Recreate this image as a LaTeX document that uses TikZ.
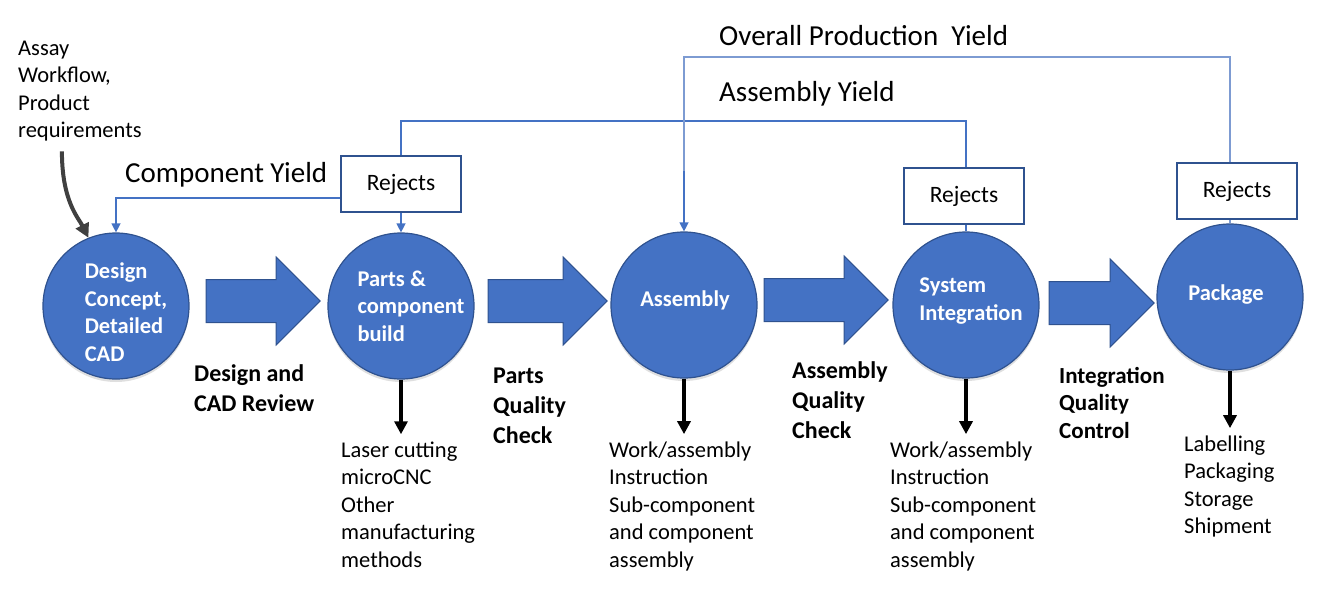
\documentclass[tikz,border=0pt]{standalone}
\usepackage{fontspec}
\setmainfont{Carlito}
\usetikzlibrary{arrows.meta,positioning,shapes.arrows,shadows}
\definecolor{stageblue}{RGB}{68,114,196}
\definecolor{edgeblue}{RGB}{47,82,143}
\definecolor{yieldblue}{RGB}{68,114,196}
\definecolor{overallblue}{RGB}{125,155,210}
\definecolor{inputgray}{RGB}{64,64,64}

\begin{document}
\begin{tikzpicture}[
    x=1pt,y=1pt,
    every node/.style={inner sep=0pt,align=left},
    stage/.style={circle,fill=stageblue,draw=edgeblue,line width=1.2pt,
                  minimum size=146pt,
                  drop shadow={shadow xshift=0pt,shadow yshift=-3pt,opacity=0.25}},
    stagetext/.style={text=white,font=\fontsize{22.5}{27.5}\selectfont\bfseries},
    flow/.style={single arrow,fill=stageblue,draw=edgeblue,line width=1pt,
                 single arrow head extend=22.5pt,inner ysep=21pt,inner xsep=0pt,
                 minimum width=0pt},
    rejects/.style={draw=edgeblue,line width=1.6pt,fill=white,
                    minimum width=120pt,minimum height=56pt,
                    font=\fontsize{23.5}{28}\selectfont},
    checklabel/.style={anchor=base west,font=\fontsize{24}{30}\selectfont\bfseries},
    desc/.style={anchor=base west,font=\fontsize{22.5}{27.5}\selectfont},
    yieldlabel/.style={anchor=west,font=\fontsize{29}{34}\selectfont},
    yieldline/.style={draw=yieldblue,line width=1.3pt},
    yieldarrow/.style={yieldline,-{Triangle[width=9pt,length=9pt]}},
    overallline/.style={draw=overallblue,line width=1.3pt},
    outarrow/.style={line width=3.8pt,-{Triangle[width=13pt,length=13pt]},
                     shorten >=7pt},
    inputarrow/.style={draw=inputgray,line width=4pt,
                       -{Triangle[width=14pt,length=14pt]}}
]
\useasboundingbox (0,0) rectangle (1320,-598);

% stages
\node[stage] (c1) at (116,-306) {};
\node[stage] (c2) at (401,-306) {};
\node[stage] (c3) at (684,-305) {};
\node[stage] (c4) at (966,-305) {};
\node[stage] (c5) at (1230,-297) {};

\node[stagetext] (t1) at ([xshift=10pt,yshift=-6pt]c1.center) {Design\\Concept,\\Detailed\\CAD};
\node[stagetext] (t2) at ([xshift=10pt]c2.center) {Parts \&\\component\\build};
\node[stagetext] (t3) at ([xshift=1pt,yshift=5pt]c3.center) {Assembly};
\node[stagetext] (t4) at ([xshift=5pt,yshift=4pt]c4.center) {System\\Integration};
\node[stagetext] (t5) at ([xshift=-4pt,yshift=2pt]c5.center) {Package};

% block arrows between stages
\node[flow,minimum height=114pt,right=16pt of c1,yshift=5pt] (a1) {};
\node[flow,minimum height=119pt,right=13pt of c2,yshift=5pt] (a2) {};
\node[flow,minimum height=124pt,right=6pt of c3,yshift=5pt] (a3) {};
\node[flow,minimum height=105pt,right=9pt of c4,yshift=2pt] (a4) {};

% base = last line
\node[checklabel] (q1) at (194,-411) {Design and\\CAD Review};
\node[checklabel] (q2) at (493,-443) {Parts\\Quality\\Check};
\node[checklabel] (q3) at (792,-438) {Assembly\\Quality\\Check};
\node[checklabel,font=\fontsize{23}{27.5}\selectfont\bfseries] (q4) at (1059,-438) {Integration\\Quality\\Control};

% inputs and outputs
\node[desc] (assay) at (18,-137.5) {Assay\\Workflow,\\Product\\requirements};
\node[desc] (d2) at (341,-567) {Laser cutting\\microCNC\\Other\\manufacturing\\methods};
\node[desc] (d3) at (609,-567) {Work/assembly\\Instruction\\Sub-component\\and component\\assembly};
\node[desc] (d4) at (890,-567) {Work/assembly\\Instruction\\Sub-component\\and component\\assembly};
\node[desc] (d5) at (1184,-533.5) {Labelling\\Packaging\\Storage\\Shipment};

\draw[inputarrow] ([xshift=-18pt,yshift=-10pt]assay.south) .. controls +(0,-50) and +(-10,20) .. (c1.112);
\draw[outarrow] (c2) -- (c2.south |- d2.north);
\draw[outarrow] (c3) -- (c3.south |- d3.north);
\draw[outarrow] (c4) -- (c4.south |- d4.north);
\draw[outarrow] (c5) -- (c5.south |- d5.north);

% rejects and yields
\node[rejects] (r1) at (401,-184) {Rejects};
\node[rejects] (r2) at (964,-196) {Rejects};
\node[rejects] (r3) at (1237,-191) {Rejects};

\coordinate (ayield) at (0,-121);
\coordinate (oyield) at (0,-57);

\node[yieldlabel] (cy) at (125,-175) {Component Yield};
\node[yieldlabel] (ay) at (719,-94) {Assembly Yield};
\node[yieldlabel] (oy) at (719,-36) {Overall Production~~Yield};

\draw[yieldarrow] ([yshift=-14pt]r1.west) -| (c1.north);
\draw[yieldarrow] (r1) -- (c2);
\draw[yieldline] (r1.north) -- (r1.north |- ayield) -| (r2.north -| c4.north);
\draw[yieldline] (r2.south -| c4.south) -- (c4.north);
\draw[overallline] (r3.north -| c5.north) |- (oyield -| c3.north) -- ([yshift=9pt]c3.north);
\draw[yieldarrow] ([yshift=60pt]c3.north) -- (c3.north);
\draw[overallline] (c5.north) -- (c5.north |- r3.south);
\end{tikzpicture}
\end{document}
